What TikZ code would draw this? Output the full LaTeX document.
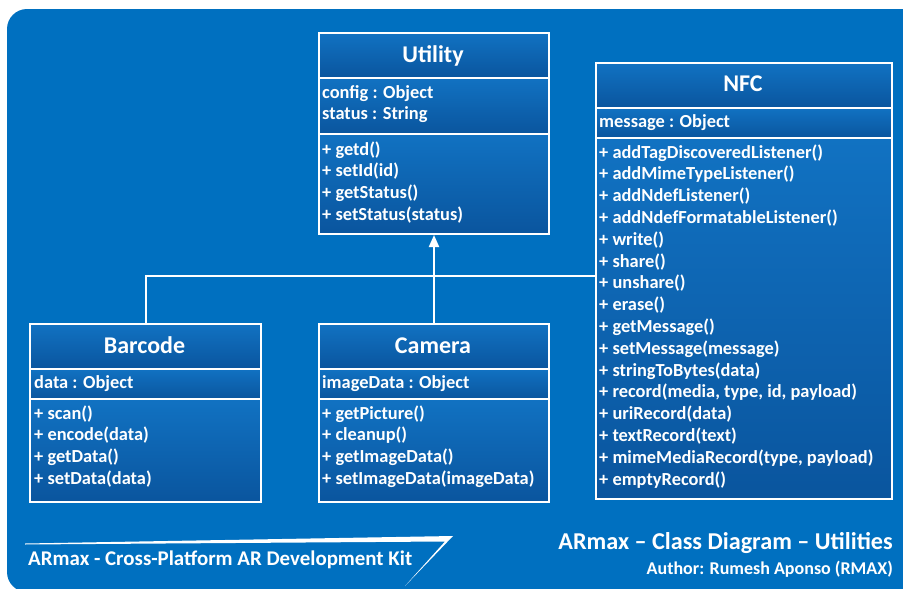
\documentclass[tikz,border=0pt]{standalone}
\usepackage{fontspec}
\setmainfont{Carlito}
\usetikzlibrary{arrows.meta}
\definecolor{armax}{HTML}{0070C0}
\definecolor{boxtop}{HTML}{1172C2}
\definecolor{boxbot}{HTML}{0A559E}

\begin{document}
\begin{tikzpicture}[x=1pt, y=-1pt,
    comp/.style={draw=white, line width=2pt, top color=boxtop, bottom color=boxbot,
                 anchor=north west, inner sep=0pt, minimum width=#1},
    title/.style={text=white, inner sep=0pt, anchor=base, font=\fontsize{24}{28}\selectfont\bfseries},
    member/.style={text=white, inner sep=0pt, anchor=base west, font=\fontsize{18.4}{22}\selectfont\bfseries},
    link/.style={draw=white, line width=2pt}]

    \useasboundingbox (0,0) rectangle (903,589);
    \fill[white] (0,0) rectangle (903,589);
    \begin{scope}
      \clip (0,0) rectangle (903,589);
      \fill[armax, rounded corners=20pt] (7,9) rectangle (930,592);
    \end{scope}

    % utility
    \node (utilT) at (318,32)  [comp=230pt, minimum height=45pt] {};
    \node (utilA) at (318,77)  [comp=230pt, minimum height=56pt] {};
    \node (utilM) at (318,133) [comp=230pt, minimum height=100pt] {};
    \node (utility) at (433,62) [title] {Utility};
    \foreach \t [count=\i] in {{config : Object}, {status : String}}
             { \node (utila\i) at (322,{98+(\i-1)*21.8}) [member] {\t};}
    \foreach \t [count=\i] in {{+ getd()}, {+ setId(id)}, {+ getStatus()}, {+ setStatus(status)}}
             { \node (utilm\i) at (322,{155+(\i-1)*21.8}) [member] {\t};}

    % nfc
    \node (nfcT) at (595,62)  [comp=296pt, minimum height=45pt] {};
    \node (nfcA) at (595,107) [comp=296pt, minimum height=30pt] {};
    \node (nfcM) at (595,137) [comp=296pt, minimum height=361pt] {};
    \node (nfc) at (743,91) [title] {NFC};
    \node (nfca1) at (599,127) [member] {message : Object};
    \foreach \t [count=\i] in {{+ addTagDiscoveredListener()}, {+ addMimeTypeListener()},
             {+ addNdefListener()}, {+ addNdefFormatableListener()}, {+ write()}, {+ share()},
             {+ unshare()}, {+ erase()}, {+ getMessage()}, {+ setMessage(message)},
             {+ stringToBytes(data)}, {+ record(media, type, id, payload)}, {+ uriRecord(data)},
             {+ textRecord(text)}, {+ mimeMediaRecord(type, payload)}, {+ emptyRecord()}}
             { \node (nfcm\i) at (599,{158+(\i-1)*21.8}) [member] {\t};}

    % barcode
    \node (barT) at (29,323) [comp=231pt, minimum height=45pt] {};
    \node (barA) at (29,368) [comp=231pt, minimum height=30pt] {};
    \node (barM) at (29,398) [comp=231pt, minimum height=103pt] {};
    \node (barcode) at (144.5,353) [title] {Barcode};
    \node (bara1) at (34,388) [member] {data : Object};
    \foreach \t [count=\i] in {{+ scan()}, {+ encode(data)}, {+ getData()}, {+ setData(data)}}
             { \node (barm\i) at (34,{419+(\i-1)*21.8}) [member] {\t};}

    % camera
    \node (camT) at (318,323) [comp=230pt, minimum height=45pt] {};
    \node (camA) at (318,368) [comp=230pt, minimum height=30pt] {};
    \node (camM) at (318,398) [comp=230pt, minimum height=103pt] {};
    \node (camera) at (433,353) [title] {Camera};
    \node (cama1) at (322,388) [member] {imageData : Object};
    \foreach \t [count=\i] in {{+ getPicture()}, {+ cleanup()}, {+ getImageData()}, {+ setImageData(imageData)}}
             { \node (camm\i) at (322,{419+(\i-1)*21.8}) [member] {\t};}

    % links
    \coordinate (bus) at (433,276);
    \draw[link] (barT.north) |- (bus) -- (nfcM.west |- bus);
    \draw[link, -{Triangle[length=12pt, width=10pt]}] (camT.north) -- (utilM.south);

    % footer
    \fill[white] (25,543.5) -- (453,536) -- (405,586) -- (445,541.5) -- (25,544.5) -- cycle;
    \node (kit) at (28,565) [member, font=\fontsize{20.9}{25}\selectfont\bfseries] {ARmax - Cross-Platform AR Development Kit};
    \node (caption) at (893,549) [member, anchor=base east, font=\fontsize{24.2}{28}\selectfont\bfseries] {ARmax – Class Diagram – Utilities};
    \node (author) at (893,574) [member, anchor=base east, font=\fontsize{18}{22}\selectfont\bfseries] {Author: Rumesh Aponso (RMAX)};

\end{tikzpicture}
\end{document}
